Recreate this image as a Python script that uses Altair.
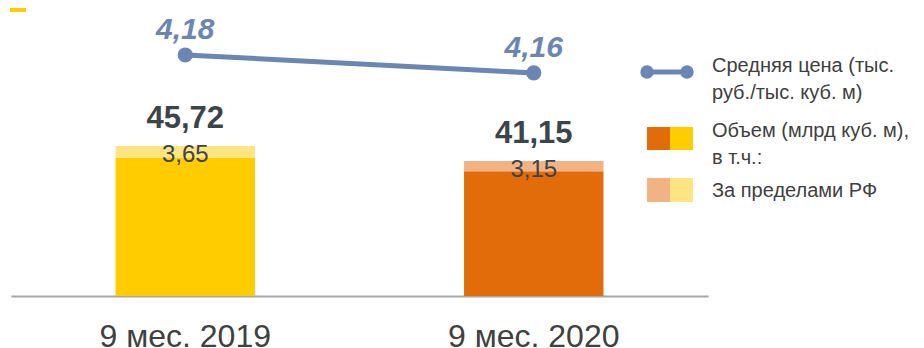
import altair as alt
import pandas as pd

periods = ["9 мес. 2019", "9 мес. 2020"]
totals = [45.72, 41.15]
outside = [3.65, 3.15]
prices = [4.18, 4.16]

legend_price = ["Средняя цена (тыс.", "руб./тыс. куб. м)"]
legend_volume = ["Объем (млрд куб. м),", "в т.ч.:"]
legend_outside = "За пределами РФ"

col_dom = ["#FFCC00", "#E36C0A"]
col_out = ["#FFE582", "#F1B384"]
col_line = "#6A86B5"
col_text = "#3B4449"
FONT = "Liberation Sans"

rows = []
for i, p in enumerate(periods):
    rows.append({"period": p, "seg": "dom", "key": f"{i}dom", "order": 0,
                 "value": round(totals[i] - outside[i], 2)})
    rows.append({"period": p, "seg": "out", "key": f"{i}out", "order": 1,
                 "value": outside[i]})
bars_df = pd.DataFrame(rows)
tot_df = pd.DataFrame({"period": periods, "total": totals, "outside": outside})
price_df = pd.DataFrame({"period": periods, "price": prices})

xenc = alt.X("period:N", sort=periods,
             scale=alt.Scale(paddingInner=0.6, paddingOuter=0.3),
             axis=alt.Axis(title=None, labelAngle=0, ticks=False, tickSize=0,
                           domainColor="#A6A6A6", domainWidth=2,
                           labelFont=FONT, labelFontSize=32, labelColor="#404040",
                           labelBaseline="alphabetic", labelPadding=50))

yb = alt.Scale(domain=[0, 87.2], nice=False, zero=True)

keys = ["0dom", "0out", "1dom", "1out"]
rng = [col_dom[0], col_out[0], col_dom[1], col_out[1]]

bars = alt.Chart(bars_df).mark_bar().encode(
    x=xenc,
    y=alt.Y("value:Q", stack="zero", scale=yb, axis=None),
    color=alt.Color("key:N", scale=alt.Scale(domain=keys, range=rng), legend=None),
    order=alt.Order("order:Q"),
)

tot_text = alt.Chart(tot_df).transform_calculate(
    lab="replace(format(datum.total, '.2f'), '.', ',')"
).mark_text(font=FONT, fontSize=31, fontWeight="bold", color=col_text,
            baseline="alphabetic", dy=-18).encode(
    x=xenc, y=alt.Y("total:Q", scale=yb, axis=None), text="lab:N")

out_text = alt.Chart(tot_df).transform_calculate(
    lab="replace(format(datum.outside, '.2f'), '.', ',')"
).mark_text(font=FONT, fontSize=24, color=col_text,
            baseline="alphabetic", dy=16).encode(
    x=xenc, y=alt.Y("total:Q", scale=yb, axis=None), text="lab:N")

bar_group = alt.layer(bars, tot_text, out_text)

yl = alt.Scale(domain=[3.912, 4.23], nice=False, zero=False)
line = alt.Chart(price_df).mark_line(color=col_line, strokeWidth=5).encode(
    x=xenc, y=alt.Y("price:Q", scale=yl, axis=None))
pts = alt.Chart(price_df).mark_point(filled=True, size=230, opacity=1,
                                     color=col_line).encode(
    x=xenc, y=alt.Y("price:Q", scale=yl, axis=None))
ptxt = alt.Chart(price_df).transform_calculate(
    lab="replace(format(datum.price, '.2f'), '.', ',')"
).mark_text(font=FONT, fontSize=30, fontWeight="bold", fontStyle="italic",
            color=col_line, baseline="alphabetic", dy=-16).encode(
    x=xenc, y=alt.Y("price:Q", scale=yl, axis=None), text="lab:N")
line_group = alt.layer(line, pts, ptxt)

one = alt.Data(values=[{"a": 1}])

def lrect(x1, x2, y1, y2, c):
    return alt.Chart(one).mark_rect(color=c).encode(
        x=alt.value(x1), x2=alt.value(x2), y=alt.value(y1), y2=alt.value(y2))

def ltext(x, y, t, size=20):
    return alt.Chart(one).mark_text(font=FONT, fontSize=size, color="#404040",
                                    align="left", baseline="middle",
                                    lineHeight=27).encode(
        x=alt.value(x), y=alt.value(y), text=alt.value(t))

def lpoint(x, y):
    return alt.Chart(one).mark_point(filled=True, size=180, opacity=1,
                                     color=col_line).encode(
        x=alt.value(x), y=alt.value(y))

leg_line = alt.Chart(one).mark_rule(color=col_line, strokeWidth=5).encode(
    x=alt.value(636), x2=alt.value(676), y=alt.value(62))

legend = alt.layer(
    leg_line, lpoint(636, 62), lpoint(676, 62),
    ltext(701, 56, legend_price),
    lrect(636, 659, 117, 140, col_dom[1]),
    lrect(659, 682, 117, 140, col_dom[0]),
    ltext(701, 121, legend_volume),
    lrect(636, 659, 168, 192, col_out[1]),
    lrect(659, 682, 168, 192, col_out[0]),
    ltext(701, 181, legend_outside),
    lrect(-1, 15, -2, 2, "#FFCC00"),
)

chart = alt.layer(bar_group, line_group, legend).resolve_scale(
    y="independent"
).properties(
    width=697, height=286,
    padding={"left": 3, "top": 2, "right": 208, "bottom": 52},
    autosize=alt.AutoSizeParams(type="none"),
).configure_view(stroke=None)

chart.save("out.html", embed_options={"renderer": "svg", "actions": False})
